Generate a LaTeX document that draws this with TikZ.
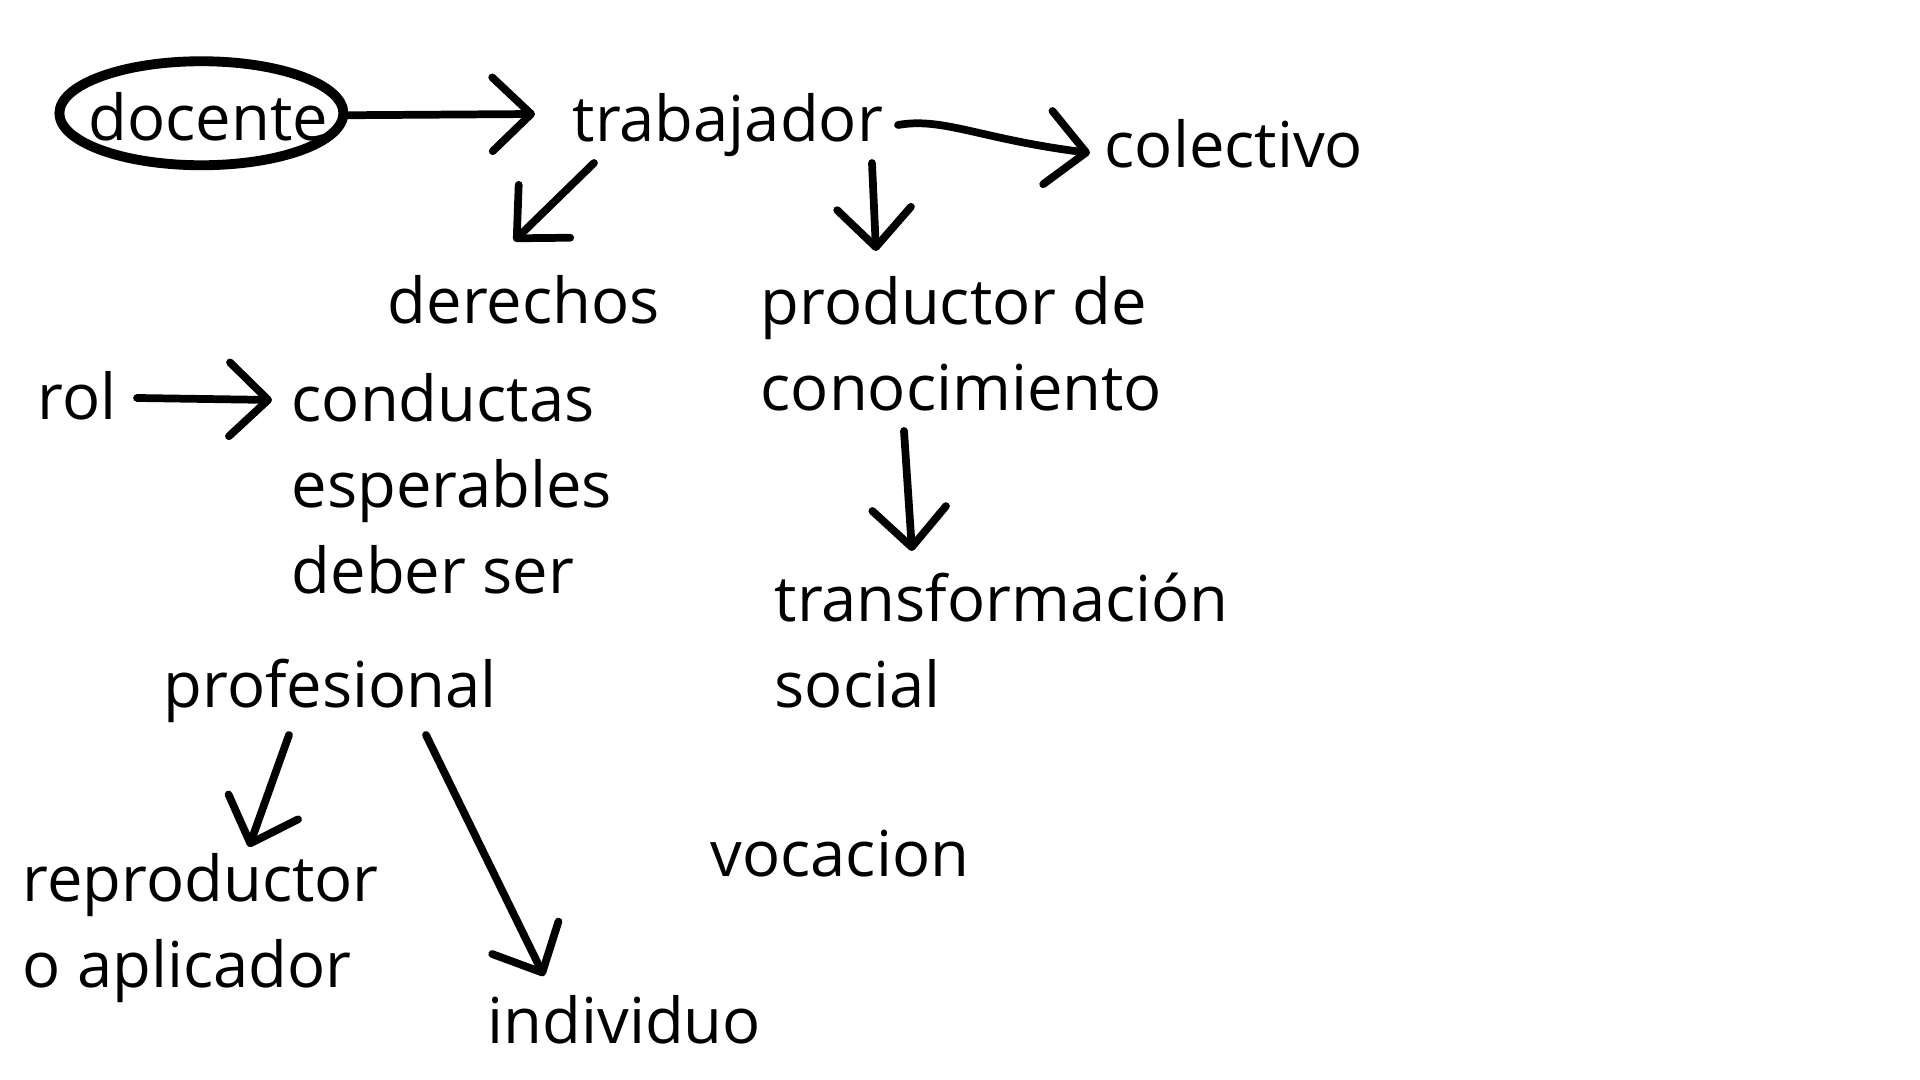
\documentclass[tikz,border=0pt]{standalone}
\usepackage{fontspec}
\setmainfont{Open Sans}
\usetikzlibrary{arrows.meta, calc}

\begin{document}
\begin{tikzpicture}[x=0.01cm, y=-0.01cm,
    word/.style={anchor=base west, inner sep=0pt, align=left,
      font=\fontsize{18}{24.5}\selectfont},
    arr/.style={line width=2.2pt, line cap=round, line join=round,
      -{Straight Barb[length=11pt, width=21pt, line width=2.2pt, round]}},
    ring/.style={line width=2.8pt}]
  % Page frame
  \useasboundingbox (0,0) rectangle (1920,1080);

  % Top row
  \node[word] (doc) at (88,141) {docente};
  \node[word] (trab) at (572,142) {trabajador};
  \node[word] (colec) at (1104,168) {colectivo};

  % Hand-drawn ring round docente
  \draw[ring] ($(doc.center)+(-7,-4)$) ellipse [x radius=142, y radius=52];

  % Second level (multi-line nodes sit on their last line)
  \node[word] (der) at (387,324) {derechos};
  \node[word] (prod) at (760,411) {productor de\\conocimiento};
  \node[word] (rol) at (37,420) {rol};
  \node[word] (cond) at (291,594) {conductas\\esperables\\deber ser};
  \node[word] (transf) at (774,708) {transformación\\social};

  % Lower part
  \node[word] (prof) at (163,708) {profesional};
  \node[word] (repro) at (22,988) {reproductor\\o aplicador};
  \node[word] (voc) at (710,877) {vocacion};
  \node[word] (indiv) at (487,1044) {individuo};

  % Arrows
  \draw[arr] ($(doc.center)+(139,-2)$) -- ($(trab.base west)+(-37,-28)$);
  \draw[arr] ($(trab.base west)+(326,-17)$)
    .. controls +(45,-8) and +(-110,-14) .. ($(colec.base west)+(-14,-15)$);
  \draw[arr] ($(trab.base west)+(22,21)$) -- ($(der.base west)+(127,-83)$);
  \draw[arr] ($(trab.base west)+(300,21)$) -- ($(prod.base west)+(116,-160)$);
  \draw[arr] ($(rol.base west)+(100,-22)$) -- ($(cond.base west)+(-19,-194)$);
  \draw[arr] ($(prod.base west)+(144,20)$) -- ($(transf.base west)+(138,-157)$);
  \draw[arr] ($(prof.base west)+(126,27)$) -- ($(repro.base west)+(227,-141)$);
  \draw[arr] ($(prof.base west)+(263,27)$) -- ($(indiv.base west)+(57,-68)$);
\end{tikzpicture}
\end{document}
